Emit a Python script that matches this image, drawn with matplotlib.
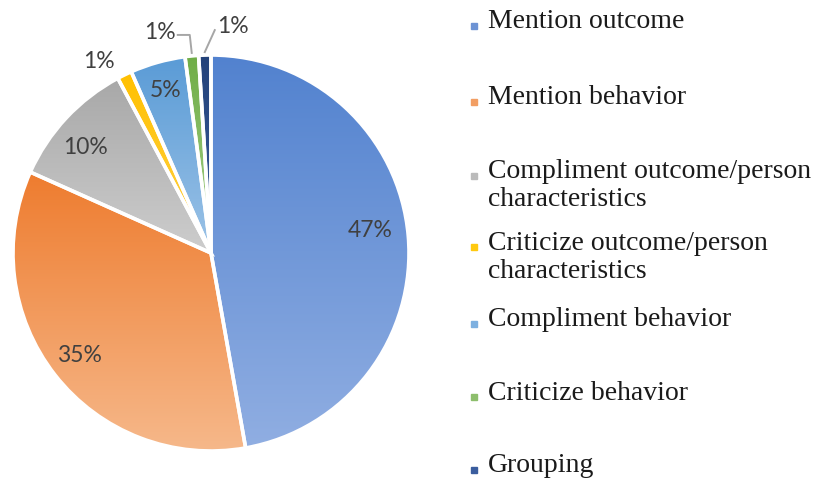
import matplotlib
matplotlib.use("Agg")
import matplotlib.pyplot as plt
import numpy as np
from matplotlib.colors import to_rgb

categories = ["Mention outcome", "Mention behavior",
              "Compliment outcome/person\ncharacteristics",
              "Criticize outcome/person\ncharacteristics",
              "Compliment behavior", "Criticize behavior", "Grouping"]
values = [47.2, 34.5, 10.5, 1.2, 4.5, 1.1, 1.0]
pct_labels = ["47%", "35%", "10%", "1%", "5%", "1%", "1%"]
top_colors = ["#5282CF", "#EE7C2F", "#A8A8A8", "#FFC000", "#5A9BD6", "#6FAD46", "#23427A"]
bottom_colors = ["#90AEE2", "#F6B88A", "#CDCDCD", "#FFD34A", "#9CC3E7", "#A6CF8B", "#3A5D9E"]
legend_colors = ["#6D93D4", "#F29E63", "#BBBBBB", "#FFC90F", "#7DB0E0", "#8DBE6C", "#3A5D9E"]

W, H = 817, 480
fig = plt.figure(figsize=(W / 100, H / 100), dpi=100)
ax = fig.add_axes([0, 0, 1, 1])

cx, cy, R = 211, 480 - 253, 198
wedges, _ = ax.pie(values, startangle=90, counterclock=False, center=(cx, cy),
                   radius=R, frame=True,
                   wedgeprops=dict(edgecolor="white", linewidth=2.6))
ax.set_xlim(0, W)
ax.set_ylim(0, H)
ax.set_aspect("equal")
ax.axis("off")

for w, c0, c1 in zip(wedges, top_colors, bottom_colors):
    ext = w.get_path().get_extents()
    a = np.array(to_rgb(c0)); b = np.array(to_rgb(c1))
    t = np.linspace(0, 1, 256)[:, None]
    grad = (a[None, :] * (1 - t) + b[None, :] * t)[:, None, :]
    im = ax.imshow(grad, extent=[ext.x0, ext.x1, ext.y0, ext.y1], origin="upper",
                   aspect="auto", zorder=1, interpolation="bilinear")
    im.set_clip_path(w)
    w.set_facecolor("none")
    w.set_zorder(2)

ax.set_xlim(0, W)
ax.set_ylim(0, H)

label_font = dict(family="Lato", fontsize=16.5, color="#404040")
# inside labels: (radius fraction, angle shift in degrees)
inside = {0: (0.81, 3), 1: (0.84, 0), 2: (0.83, 3), 4: (0.85, 0)}
for i, w in enumerate(wedges):
    if i in inside:
        f, sh = inside[i]
        mid = np.deg2rad((w.theta1 + w.theta2) / 2 + sh)
        r = R * f
        ax.text(cx + r * np.cos(mid), cy + r * np.sin(mid), pct_labels[i],
                ha="center", va="center", zorder=3, **label_font)

def edge_pt(w, f=1.0):
    mid = np.deg2rad((w.theta1 + w.theta2) / 2)
    return cx + R * f * np.cos(mid), cy + R * f * np.sin(mid)

# yellow
x, y = edge_pt(wedges[3], 1.0)
ax.text(x - 26, y + 13, pct_labels[3], ha="center", va="center", zorder=3, **label_font)
# green
x, y = edge_pt(wedges[5], 1.0)
ax.plot([x, x - 2, x - 14], [y + 3, y + 21, y + 21], color="#A6A6A6", lw=1.4, zorder=3)
ax.text(x - 16, y + 23, pct_labels[5], ha="right", va="center", zorder=3, **label_font)
# dark blue
x, y = edge_pt(wedges[6], 1.0)
ax.plot([x, x + 10], [y + 3, y + 25], color="#A6A6A6", lw=1.4, zorder=3)
ax.text(x + 12, y + 29, pct_labels[6], ha="left", va="center", zorder=3, **label_font)

# legend
first_line_y = [22, 98, 172, 243, 320, 393, 466]
for lab, col, yy in zip(categories, legend_colors, first_line_y):
    lines = lab.split("\n")
    for k, ln in enumerate(lines):
        ax.text(488, H - (yy + 28 * k), ln, ha="left", va="center",
                family="Liberation Serif", fontsize=20, color="#1a1a1a")
    ax.add_patch(plt.Rectangle((471, H - yy - 7), 6, 6, color=col, zorder=3))

fig.savefig("out.png", dpi=100, facecolor="white")
